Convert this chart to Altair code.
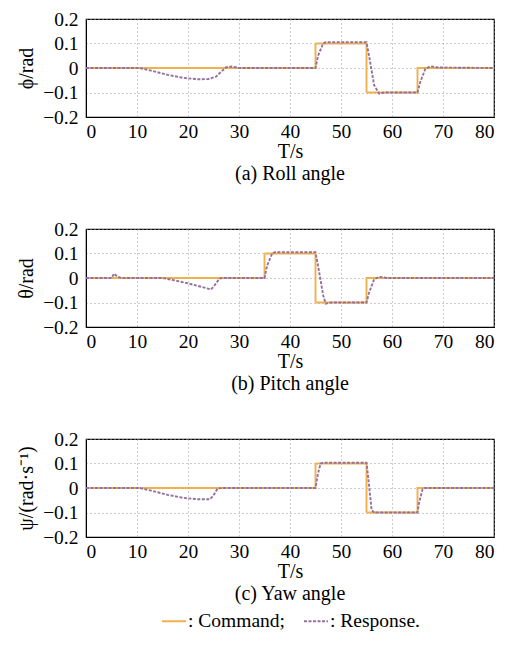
import altair as alt
import pandas as pd

# ---- data ----
roll_cmd_t = [0, 45, 45, 55, 55, 65, 65, 80]
roll_cmd_v = [0, 0, 0.1, 0.1, -0.1, -0.1, 0, 0]
roll_res_t = [0, 10.5, 13, 16, 19, 22, 24, 25.5, 26.5, 27.5, 28.5, 30, 45, 45.5, 46.5, 47,
              55, 55.5, 56.5, 57.5, 58.5, 65, 65.5, 66.5, 67.5, 69, 80]
roll_res_v = [0, 0, -0.012, -0.028, -0.04, -0.046, -0.045, -0.035, -0.015, 0.003, 0.006, 0,
              0, 0.05, 0.1, 0.105, 0.105, 0.05, -0.07, -0.105, -0.1, -0.1, -0.06, -0.005,
              0.007, 0.002, 0]

pitch_cmd_t = [0, 35, 35, 45, 45, 55, 55, 80]
pitch_cmd_v = [0, 0, 0.1, 0.1, -0.1, -0.1, 0, 0]
pitch_res_t = [0, 5, 5.5, 6.2, 7, 15, 17, 20, 23, 24.5, 25.2, 26.2, 27, 35, 35.5, 36.5, 37,
               45, 45.5, 46.5, 47, 48, 55, 55.5, 56.5, 57.5, 59, 80]
pitch_res_v = [0, 0, 0.018, 0.005, 0, 0, -0.008, -0.022, -0.038, -0.047, -0.03, -0.002, 0,
               0, 0.05, 0.1, 0.105, 0.105, 0.05, -0.07, -0.105, -0.1, -0.1, -0.06, -0.005,
               0.005, 0, 0]

yaw_cmd_t = [0, 45, 45, 55, 55, 65, 65, 80]
yaw_cmd_v = [0, 0, 0.1, 0.1, -0.1, -0.1, 0, 0]
yaw_res_t = [0, 10.5, 13, 16, 19, 22, 24.3, 25, 25.8, 27, 45, 45.5, 46, 46.5, 55, 55.3, 56,
             56.5, 65, 65.3, 66, 66.5, 80]
yaw_res_v = [0, 0, -0.012, -0.028, -0.04, -0.046, -0.046, -0.03, -0.002, 0, 0, 0.06, 0.1,
             0.103, 0.103, 0.05, -0.09, -0.1, -0.1, -0.06, -0.005, 0, 0]

series_names = ["Command", "Response"]
x_ticks = [0, 10, 20, 30, 40, 50, 60, 70, 80]
y_ticks = [-0.2, -0.1, 0, 0.1, 0.2]

FONT = "Liberation Serif"
ORANGE = "#EFB04E"
PURPLE = "#93709F"
LEG_EXPR = "': ' + datum.label + (datum.label == 'Command' ? ';' : '.')"

AXIS_STYLE = dict(labelFont=FONT, titleFont=FONT, labelFontSize=19.5, titleFontSize=20,
                  labelColor="#000000", titleColor="#000000", titleFontWeight="normal")


def panel(ct, cv, rt, rv, ytitle, sub):
    rows = []
    for i, (t, v) in enumerate(zip(ct, cv)):
        rows.append({"t": t, "v": v, "s": "Command", "i": i})
    for i, (t, v) in enumerate(zip(rt, rv)):
        rows.append({"t": t, "v": v, "s": "Response", "i": i})
    df = pd.DataFrame(rows)
    return alt.Chart(df).mark_line(strokeWidth=1.9).encode(
        x=alt.X("t:Q", scale=alt.Scale(domain=[0, 80], nice=False),
                axis=alt.Axis(values=x_ticks, title="T/s", labelPadding=5, titlePadding=1,
                              **AXIS_STYLE)),
        y=alt.Y("v:Q", scale=alt.Scale(domain=[-0.2, 0.2], nice=False),
                axis=alt.Axis(values=y_ticks, title=ytitle, labelPadding=8, titlePadding=6,
                              labelExpr="datum.value == 0 ? '0' : replace(format(datum.value, '.1f'), '-', '\u2212')",
                              **AXIS_STYLE)),
        color=alt.Color("s:N", scale=alt.Scale(domain=series_names, range=[ORANGE, PURPLE]),
                        legend=alt.Legend(title=None, labelExpr=LEG_EXPR)),
        strokeDash=alt.StrokeDash("s:N", scale=alt.Scale(domain=series_names, range=[[1, 0], [3, 1.5]]),
                                  legend=alt.Legend(title=None, labelExpr=LEG_EXPR)),
        order=alt.Order("i:Q"),
    ).properties(
        width=408, height=98,
        title=alt.Title(sub, orient="bottom", font=FONT, fontSize=20, fontWeight="normal", offset=2),
    )


p1 = panel(roll_cmd_t, roll_cmd_v, roll_res_t, roll_res_v, "\u03d5/rad", "(a) Roll angle")
p2 = panel(pitch_cmd_t, pitch_cmd_v, pitch_res_t, pitch_res_v, "\u03b8/rad", "(b) Pitch angle")
p3 = panel(yaw_cmd_t, yaw_cmd_v, yaw_res_t, yaw_res_v, "\u03c8/(rad\u00b7s\u207b\u00b9)", "(c) Yaw angle")

chart = alt.vconcat(p1, p2, p3, spacing=33).properties(
    padding={"left": 8, "top": 0, "right": 5, "bottom": 5}
).configure_view(
    stroke="#000000", strokeWidth=1.2
).configure_axis(
    ticks=False, domainColor="#000000",
    grid=True, gridColor="#9a9a9a", gridDash=[1, 3], gridWidth=1,
).configure_legend(
    orient="none", legendX=75, legendY=589, direction="horizontal",
    labelFont=FONT, labelFontSize=19.5,
    labelColor="#000000", symbolType="stroke", symbolSize=576, symbolStrokeWidth=1.9,
    columnPadding=15, labelOffset=1,
)

chart.save("out.html", embed_options={"renderer": "svg", "actions": False})
